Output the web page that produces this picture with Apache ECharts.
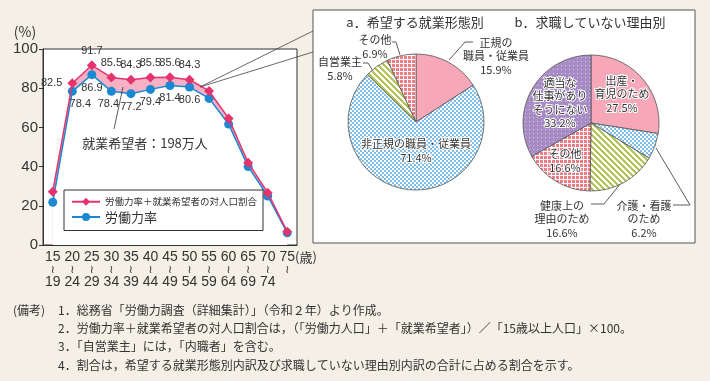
<!DOCTYPE html>
<html><head><meta charset="utf-8">
<script src="https://cdn.jsdelivr.net/npm/echarts@6/dist/echarts.min.js"></script>
<style>html,body{margin:0;padding:0;background:#f4f0e6}#c{width:710px;height:381px}</style>
</head><body><div id="c"></div>
<script>
// ---- data ----
const ageStart = ['15','20','25','30','35','40','45','50','55','60','65','70','75'];
const ageEnd   = ['19','24','29','34','39','44','49','54','59','64','69','74',''];
const laborPlusHope = [27.2, 82.5, 91.7, 85.5, 84.3, 85.5, 85.6, 84.3, 78.6, 64.6, 42.0, 26.7, 6.8];
const laborRate     = [21.8, 78.4, 86.9, 78.4, 77.2, 79.4, 81.4, 80.6, 74.8, 61.7, 40.0, 25.0, 6.2];
const redLabelIdx  = [1,2,3,4,5,6,7];
const blueLabelIdx = [1,2,3,4,5,6,7];
const seriesNames = ['労働力率＋就業希望者の対人口割合', '労働力率'];

const wishNames  = ['正規の\n職員・従業員', '非正規の職員・従業員', '自営業主', 'その他'];
const wishValues = [15.9, 71.4, 5.8, 6.9];
const reasonNames  = ['出産・\n育児のため', '介護・看護\nのため', '健康上の\n理由のため', 'その他', '適当な\n仕事があり\nそうにない'];
const reasonValues = [27.5, 6.2, 16.6, 16.6, 33.2];

const notes = [
  '1．総務省「労働力調査（詳細集計）」（令和２年）より作成。',
  '2．労働力率＋就業希望者の対人口割合は，（「労働力人口」＋「就業希望者」）／「15歳以上人口」×100。',
  '3．「自営業主」には，「内職者」を含む。',
  '4．割合は，希望する就業形態別内訳及び求職していない理由別内訳の合計に占める割合を示す。'
];

// ---- styles ----
const JP = "'Noto Sans CJK JP', sans-serif";
const NUM = "'Liberation Sans Narrow','Liberation Sans',sans-serif";
const RED = '#e5336d', BLUE = '#1b88d2', PINKFILL = '#f6b2c4';

function pattern(w, h, fn) {
  const c = document.createElement('canvas'); c.width = w; c.height = h;
  const ctx = c.getContext('2d'); fn(ctx);
  return { image: c, repeat: 'repeat' };
}
const pinkSolid = '#f7a8b8';
const blueCheck = pattern(4, 4, ctx => { ctx.fillStyle = '#7fbdea'; ctx.fillRect(0,0,4,4); ctx.fillStyle = '#fff'; ctx.fillRect(0,0,2,2); ctx.fillRect(2,2,2,2); });
const greenStripe = pattern(6, 6, ctx => { ctx.fillStyle = '#fff'; ctx.fillRect(0,0,6,6); ctx.fillStyle = '#b2c45a';
  for (let x=0;x<6;x++) for (let y=0;y<6;y++) if ((((x - y) % 6) + 6) % 6 < 3) ctx.fillRect(x,y,1,1); });
const redCheck = pattern(4, 4, ctx => { ctx.fillStyle = '#ef7c84'; ctx.fillRect(0,0,4,4); ctx.fillStyle = '#fff'; ctx.fillRect(3,0,1,4); ctx.fillRect(0,3,4,1); });
const purpleDot = pattern(4, 4, ctx => { ctx.fillStyle = '#a78bc5'; ctx.fillRect(0,0,4,4); ctx.fillStyle = '#d8cbe6'; ctx.fillRect(1,1,1,1); });

const wishColors = [pinkSolid, blueCheck, greenStripe, redCheck];
const reasonColors = [pinkSolid, blueCheck, greenStripe, redCheck, purpleDot];

// label placement (layout, not data)
const wishLabelLayout = [
  { x: 496, y: 56, line: [[449,60],[465,42],[473,42]] },
  { x: 416, y: 151 },
  { x: 340, y: 69, line: [[373,71],[368,63],[363,63]] },
  { x: 375, y: 47, line: [[400,55],[396,42],[391,42]] }
];
const reasonLabelLayout = [
  { x: 622, y: 94 },
  { x: 644, y: 219, line: [[656,148],[690,205],[673,205]] },
  { x: 562, y: 219, line: [[621,183],[604,204],[591,204]] },
  { x: 565, y: 161 },
  { x: 560, y: 103 }
];

function pieData(names, values, colors, layout) {
  return names.map((n, i) => ({
    name: n, value: values[i],
    itemStyle: { color: colors[i] },
    label: { position: layout[i].line ? 'outside' : 'inside' },
    labelLine: { show: !!layout[i].line }
  }));
}
function layoutFn(layout) {
  return function (p) {
    const L = layout[p.dataIndex];
    const r = { x: L.x, y: L.y, align: 'center', verticalAlign: 'middle' };
    if (L.line) r.labelLinePoints = L.line;
    return r;
  };
}
const pieLabel = { show: true, formatter: '{b}\n{c}%', fontSize: 11, lineHeight: 13.5, color: '#333',
  fontFamily: JP, textBorderColor: '#fff', textBorderWidth: 2 };

const chart = echarts.init(document.getElementById('c'), null, { renderer: 'canvas' });
const option = {
  backgroundColor: '#f4f0e6',
  animation: false,
  textStyle: { fontFamily: JP },
  grid: { left: 43, right: 413, top: 49, bottom: 136, show: true, backgroundColor: '#fff', borderColor: '#333', borderWidth: 1 },
  xAxis: {
    type: 'category', data: ageStart, boundaryGap: true,
    axisLine: { lineStyle: { color: '#333' } },
    axisTick: { inside: true, alignWithLabel: true, length: 7, lineStyle: { color: '#333' } },
    axisLabel: {
      interval: 0, margin: 6, color: '#333',
      formatter: function (v, i) {
        if (ageEnd[i] === '') return '{h|(歳)}{n|' + v + '}{s|(歳)}\n{t|≀}';
        return '{n|' + v + '}\n{t|≀}\n{n|' + ageEnd[i] + '}';
      },
      rich: {
        n: { fontSize: 14, lineHeight: 13, fontFamily: "'Liberation Sans',sans-serif", color: '#333' },
        t: { fontSize: 11, lineHeight: 12, fontFamily: "'DejaVu Sans',sans-serif", color: '#333' },
        s: { fontSize: 13, lineHeight: 13, fontFamily: JP, color: '#333' },
        h: { fontSize: 13, lineHeight: 13, fontFamily: JP, color: 'transparent' }
      }
    }
  },
  yAxis: {
    type: 'value', min: 0, max: 100, interval: 20,
    splitLine: { show: false },
    axisLine: { show: true, lineStyle: { color: '#333' } },
    axisTick: { show: true, length: 4, lineStyle: { color: '#333' } },
    axisLabel: { fontSize: 15, color: '#333', margin: 5, fontFamily: "'Liberation Sans',sans-serif" }
  },
  legend: {
    left: 64, top: 190, orient: 'vertical', itemGap: 4,
    backgroundColor: '#fff', borderColor: '#333', borderWidth: 1, padding: [7, 6, 7, 7],
    itemWidth: 28, itemHeight: 10,
    data: seriesNames,
    formatter: n => n === '労働力率' ? '{b|' + n + '}' : '{a|' + n + '}',
    textStyle: { rich: { a: { fontSize: 9.5, fontFamily: JP, color: '#333' }, b: { fontSize: 13, fontFamily: JP, color: '#333' } } }
  },
  series: [
    { name: 'fillTop', type: 'line', data: laborPlusHope, symbol: 'none', lineStyle: { width: 0 }, areaStyle: { color: PINKFILL, opacity: 1 }, silent: true, z: 1 },
    { name: 'fillBottom', type: 'line', data: laborRate, symbol: 'none', lineStyle: { width: 0 }, areaStyle: { color: '#fff', opacity: 1 }, silent: true, z: 1 },
    {
      name: seriesNames[1], type: 'line', data: laborRate.map((v, i) => ({
        value: v,
        label: blueLabelIdx.includes(i) ? { show: true, position: 'bottom', distance: 3, offset: i === 1 ? [8, 0] : (i === 3 ? [-3, 0] : [0, 0]) } : { show: false }
      })),
      color: BLUE, symbol: 'circle', symbolSize: 9, lineStyle: { color: BLUE, width: 1.5 },
      label: { fontSize: 11, color: '#333', fontFamily: NUM }, z: 3
    },
    {
      name: seriesNames[0], type: 'line', data: laborPlusHope.map((v, i) => ({
        value: v,
        label: redLabelIdx.includes(i) ? { show: true, position: i === 1 ? 'left' : 'top', distance: i === 1 ? 5 : 4 } : { show: false }
      })),
      color: RED, symbol: 'diamond', symbolSize: 10, lineStyle: { color: RED, width: 1.5 },
      label: { fontSize: 11, color: '#333', fontFamily: NUM }, z: 4
    },
    {
      type: 'pie', center: [416, 122], radius: 68, startAngle: 90, clockwise: true, avoidLabelOverlap: false,
      data: pieData(wishNames, wishValues, wishColors, wishLabelLayout),
      itemStyle: { borderColor: '#555', borderWidth: 0.8 },
      label: pieLabel,
      labelLine: { lineStyle: { color: '#333', width: 0.8 } },
      labelLayout: layoutFn(wishLabelLayout),
      emphasis: { disabled: true }, z: 5
    },
    {
      type: 'pie', center: [591, 123], radius: 68, startAngle: 90, clockwise: true, avoidLabelOverlap: false,
      data: pieData(reasonNames, reasonValues, reasonColors, reasonLabelLayout),
      itemStyle: { borderColor: '#555', borderWidth: 0.8 },
      label: pieLabel,
      labelLine: { lineStyle: { color: '#333', width: 0.8 } },
      labelLayout: layoutFn(reasonLabelLayout),
      emphasis: { disabled: true }, z: 5
    }
  ],
  graphic: [
    { type: 'rect', z: 0, shape: { x: 313, y: 10, width: 382, height: 233 }, style: { fill: '#fff', stroke: '#555', lineWidth: 1 } },
    { type: 'line', z: 10, shape: { x1: 200, y1: 87, x2: 313, y2: 31 }, style: { stroke: '#444', lineWidth: 0.8 } },
    { type: 'line', z: 10, shape: { x1: 200, y1: 87, x2: 313, y2: 52 }, style: { stroke: '#444', lineWidth: 0.8 } },
    { type: 'line', z: 10, shape: { x1: 123, y1: 87, x2: 114, y2: 129 }, style: { stroke: '#333', lineWidth: 0.8 } },
    { type: 'text', z: 10, x: 145, y: 143, style: { text: '就業希望者：198万人', font: '13px ' + JP, fill: '#333', align: 'center', verticalAlign: 'middle' } },
    { type: 'text', z: 10, x: 25, y: 32, style: { text: '(%)', font: '14px ' + JP, fill: '#333', align: 'center', verticalAlign: 'middle' } },
    { type: 'text', z: 10, x: 415, y: 22, style: { text: 'a．希望する就業形態別', font: '13px ' + JP, fill: '#333', align: 'center', verticalAlign: 'middle' } },
    { type: 'text', z: 10, x: 590, y: 22, style: { text: 'b．求職していない理由別', font: '13px ' + JP, fill: '#333', align: 'center', verticalAlign: 'middle' } },
    { type: 'text', z: 10, x: 13, y: 310, style: { text: '(備考)', font: '12px ' + JP, fill: '#333', align: 'left', verticalAlign: 'middle' } },
  ].concat(notes.map((t, i) => ({
    type: 'text', z: 10, x: 58, y: 310 + i * 18.4,
    style: { text: t, font: '12px ' + JP, fill: '#333', align: 'left', verticalAlign: 'middle' }
  })))
};
chart.setOption(option);
</script></body></html>
